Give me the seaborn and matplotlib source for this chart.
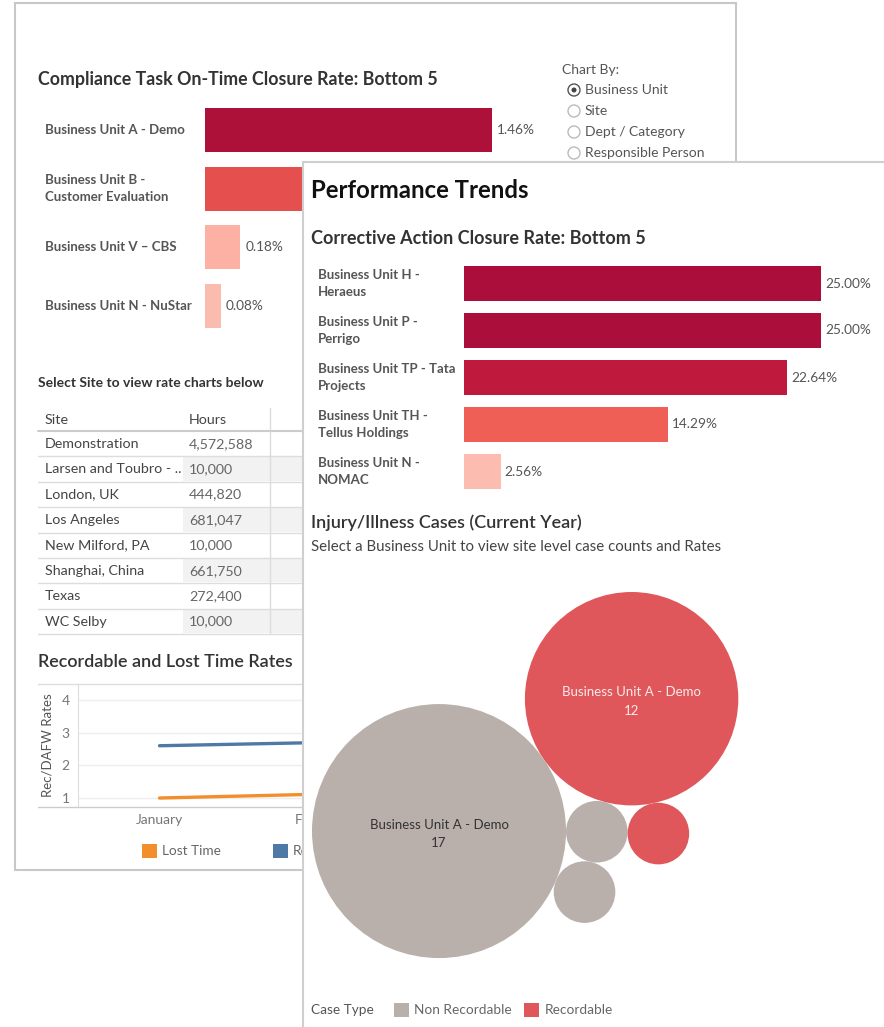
import numpy as np
import pandas as pd
import matplotlib
matplotlib.use('Agg')
import matplotlib.pyplot as plt
import seaborn as sns
from matplotlib.patches import Rectangle, Circle, Ellipse
from matplotlib.lines import Line2D
from matplotlib import transforms

# 데이터
compliance_units = ["Business Unit A - Demo", "Business Unit B -\nCustomer Evaluation",
                    "Business Unit V – CBS", "Business Unit N - NuStar"]
compliance_rates = [1.46, 0.98, 0.18, 0.08]

chart_by_options = ["Business Unit", "Site", "Dept / Category", "Responsible Person"]

sites = ["Demonstration", "Larsen and Toubro - ..", "London, UK", "Los Angeles",
         "New Milford, PA", "Shanghai, China", "Texas", "WC Selby"]
site_hours = [4572588, 10000, 444820, 681047, 10000, 661750, 272400, 10000]

months = ["January", "February"]
lost_time_rates = [1.00, 1.12]
recordable_rates = [2.60, 2.70]

ca_units = ["Business Unit H -\nHeraeus", "Business Unit P -\nPerrigo",
            "Business Unit TP - Tata\nProjects", "Business Unit TH -\nTellus Holdings",
            "Business Unit N -\nNOMAC"]
ca_rates = [25.00, 25.00, 22.64, 14.29, 2.56]

case_units = ["Business Unit A - Demo", "Business Unit A - Demo", "", "", ""]
case_types = ["Non Recordable", "Recordable", "Non Recordable", "Recordable", "Non Recordable"]
case_counts = [17, 12, 1, 1, 1]

# 스타일
compliance_colors = ["#AD1038", "#E5504E", "#FDB1A4", "#FBBCB0"]
ca_colors = ["#AB0E3A", "#AB0E3A", "#BF193D", "#EF5F55", "#FDBCB0"]
case_colors = {"Non Recordable": "#B9B0AC", "Recordable": "#E0575B"}
line_colors = {"Lost Time": "#F28E2B", "Recordable": "#4E79A7"}

sns.set_style("white")
plt.rcParams['font.family'] = ['Lato', 'DejaVu Sans']

W, H = 884, 1027
FRONT_X, FRONT_Y = 303, 162
fig = plt.figure(figsize=(W / 100, H / 100), dpi=100)
fig.patch.set_facecolor("white")


def px_axes(x0, y0, x1, y1, z):
    ax = fig.add_axes([x0 / W, 1 - y1 / H, (x1 - x0) / W, (y1 - y0) / H], zorder=z)
    ax.patch.set_visible(False)
    return ax


def ftext(x, y, s, z=2, **kw):
    kw.setdefault("va", "center")
    kw.setdefault("ha", "left")
    return fig.text(x / W, 1 - y / H, s, zorder=z, **kw)


def fline(x0, y0, x1, y1, z=2, **kw):
    fig.add_artist(Line2D([x0 / W, x1 / W], [1 - y0 / H, 1 - y1 / H],
                          transform=fig.transFigure, zorder=z, **kw))


def frect(x0, y0, x1, y1, z=2, **kw):
    fig.add_artist(Rectangle((x0 / W, 1 - y1 / H), (x1 - x0) / W, (y1 - y0) / H,
                             transform=fig.transFigure, zorder=z, **kw))


# ---------------- 뒤쪽 대시보드 ----------------
frect(15, 3, 736, 870, z=0.5, facecolor="white", edgecolor="#c8c8c8", lw=1.5)

ftext(38, 79, "Compliance Task On-Time Closure Rate: Bottom 5", fontsize=12.8,
      fontweight="bold", color="#333333")

ax1 = px_axes(205, 101, 555, 335, 1)
sns.barplot(x=compliance_rates, y=compliance_units, hue=compliance_units,
            palette=compliance_colors, legend=False, orient="h", width=0.75,
            saturation=1, linewidth=0, ax=ax1)
ax1.set_xlim(0, 350 / 287 * 1.46)
ax1.set_ylim(len(compliance_units) - 0.5, -0.5)
ax1.axis("off")
lab_tr = transforms.blended_transform_factory(fig.transFigure, ax1.transData)
for i, (u, v) in enumerate(zip(compliance_units, compliance_rates)):
    ax1.text(45 / W, i, u, transform=lab_tr, ha="left", va="center", fontsize=9.5,
             color="#555555", fontweight="bold", linespacing=1.5)
    # 앞 패널에 가려지는 값 라벨은 생략
    bx, by = ax1.transData.transform((v, i))
    hidden = (bx + 45 > FRONT_X) and (H - by > FRONT_Y)
    if not hidden:
        ax1.annotate(f"{v:.2f}%", (v, i), xytext=(5, 0), textcoords="offset pixels",
                     va="center", ha="left", fontsize=9.8, color="#555555")

# Chart By 라디오 버튼
ftext(562, 70, "Chart By:", fontsize=10, color="#555555")
for i, opt in enumerate(chart_by_options):
    yy = 90 + 21 * i
    fig.add_artist(Ellipse((574 / W, 1 - yy / H), 12 / W, 12 / H, transform=fig.transFigure,
                           facecolor="white", edgecolor="#555555" if i == 0 else "#bbbbbb",
                           lw=1, zorder=2))
    if i == 0:
        fig.add_artist(Ellipse((574 / W, 1 - yy / H), 5 / W, 5 / H, transform=fig.transFigure,
                               facecolor="#444444", edgecolor="none", zorder=2))
    ftext(585, yy, opt, fontsize=10, color="#555555")

# 사이트 표
ftext(38, 383, "Select Site to view rate charts below", fontsize=10, fontweight="bold",
      color="#333333")
ftext(45, 420, "Site", fontsize=10.3, color="#444444")
ftext(189, 420, "Hours", fontsize=10.3, color="#444444")
fline(270, 408, 270, 634, color="#dddddd", lw=1)
fline(38, 431, 330, 431, color="#cccccc", lw=1.5)
row_h = 25.4
for i, (s, h) in enumerate(zip(sites, site_hours)):
    top = 431 + row_h * i
    if i % 2 == 1:
        frect(183, top + 1, 330, top + row_h - 1, z=1.5, facecolor="#f2f2f2", edgecolor="none")
    ftext(45, top + row_h / 2, s, fontsize=10.3, color="#444444")
    ftext(189, top + row_h / 2, f"{h:,}", fontsize=10.3, color="#666666")
    fline(38, top + row_h, 330, top + row_h, color="#dddddd", lw=1)

# 선 그래프
ftext(38, 662, "Recordable and Lost Time Rates", fontsize=13, color="#333333",
      fontweight="semibold")
fline(38, 684, 330, 684, color="#dddddd", lw=1)
fline(38, 807, 330, 807, color="#cccccc", lw=1)
ax3 = px_axes(78, 684, 404, 807, 1)
line_df = pd.DataFrame({
    "idx": list(range(len(months))) * 2,
    "rate": lost_time_rates + recordable_rates,
    "series": ["Lost Time"] * len(months) + ["Recordable"] * len(months),
})
sns.lineplot(data=line_df, x="idx", y="rate", hue="series", palette=line_colors,
             linewidth=2.4, legend=False, ax=ax3)
ax3.set_xlim(-0.5, len(months) - 0.5)
ax3.set_ylim(0.725, 4.49)
ax3.set_yticks([1, 2, 3, 4])
ax3.set_xticks(range(len(months)))
ax3.set_xticklabels(months)
ax3.set_xticks(np.arange(-0.5, len(months)), minor=True)
ax3.tick_params(axis="both", length=0, labelsize=10, labelcolor="#777777")
ax3.tick_params(axis="x", which="minor", length=6, color="#dddddd", width=1)
ax3.tick_params(axis="x", pad=5)
ax3.tick_params(axis="y", pad=6)
ax3.set_xlabel("")
ax3.set_ylabel("")
ax3.grid(axis="y", color="#eeeeee", lw=1)
for sp in ["top", "right", "bottom"]:
    ax3.spines[sp].set_visible(False)
ax3.spines["left"].set_color("#dddddd")
ftext(47, 745, "Rec/DAFW Rates", fontsize=9.5, color="#555555", rotation=90, ha="center")

frect(142, 844, 157, 858, facecolor=line_colors["Lost Time"], edgecolor="none")
ftext(162, 851, "Lost Time", fontsize=9.8, color="#666666")
frect(273, 844, 288, 858, facecolor=line_colors["Recordable"], edgecolor="none")
ftext(293, 851, "Recordable", fontsize=9.8, color="#666666")

# ---------------- 앞쪽 대시보드 ----------------
frect(FRONT_X, FRONT_Y, 900, 1040, z=5, facecolor="white", edgecolor="#cfcfcf", lw=1.5)

ftext(311, 191, "Performance Trends", z=7, fontsize=17.2, fontweight="bold", color="#111111")
ftext(311, 239, "Corrective Action Closure Rate: Bottom 5", z=7, fontsize=13,
      fontweight="bold", color="#333333")

ax2 = px_axes(464, 260, 884, 495, 6)
sns.barplot(x=ca_rates, y=ca_units, hue=ca_units, palette=ca_colors, legend=False,
            orient="h", width=0.745, saturation=1, linewidth=0, ax=ax2)
ax2.set_xlim(0, 420 / 357 * 25)
ax2.set_ylim(len(ca_units) - 0.5, -0.5)
ax2.axis("off")
lab_tr2 = transforms.blended_transform_factory(fig.transFigure, ax2.transData)
for i, (u, v) in enumerate(zip(ca_units, ca_rates)):
    ax2.text(318 / W, i, u, transform=lab_tr2, ha="left", va="center", fontsize=9.5,
             color="#555555", fontweight="bold", linespacing=1.5)
    ax2.annotate(f"{v:.2f}%", (v, i), xytext=(4, 0), textcoords="offset pixels",
                 va="center", ha="left", fontsize=9.8, color="#555555")

ftext(311, 523, "Injury/Illness Cases (Current Year)", z=7, fontsize=13,
      fontweight="semibold", color="#333333")
ftext(311, 547, "Select a Business Unit to view site level case counts and Rates", z=7,
      fontsize=10.8, color="#444444")


# 버블 배치 (두 원에 접하도록)
def tangent_to(c1, r1, c2, r2, r, side):
    d = np.hypot(*(c2 - c1))
    a, b = r1 + r, r2 + r
    x = (a ** 2 - b ** 2 + d ** 2) / (2 * d)
    h = np.sqrt(max(a ** 2 - x ** 2, 0))
    u = (c2 - c1) / d
    perp = np.array([-u[1], u[0]])
    return c1 + x * u + side * h * perp


k = 127 / np.sqrt(max(case_counts))
radii = [k * np.sqrt(c) for c in case_counts]
centers = [np.array([0.0, 0.0])]
ang = np.deg2rad(34.5)
centers.append(centers[0] + (radii[0] + radii[1]) * np.array([np.cos(ang), np.sin(ang)]))
for i, (a, b, side) in zip([2, 3, 4], [(0, 1, -1), (1, 2, 1), (0, 2, -1)]):
    centers.append(tangent_to(centers[a], radii[a], centers[b], radii[b], radii[i], side))
centers = np.array(centers)

ax4 = px_axes(305, 565, 884, 985, 6)
minx = (centers[:, 0] - radii).min()
maxy = (centers[:, 1] + radii).max()
ax4.set_xlim(minx - 7, minx - 7 + 579)
ax4.set_ylim(maxy + 27 - 420, maxy + 27)
ax4.axis("off")
for c, r, t, u, n in zip(centers, radii, case_types, case_units, case_counts):
    ax4.add_patch(Circle(c, r, facecolor=case_colors[t], edgecolor="none"))
    if u:
        ax4.text(c[0], c[1] - 3, f"{u}\n{n}", ha="center", va="center", fontsize=9.5,
                 linespacing=1.65, color="#333333" if t == "Non Recordable" else "#fbeaea")

ftext(311, 1010, "Case Type", z=7, fontsize=9.8, color="#555555")
frect(394, 1003, 409, 1017, z=7, facecolor=case_colors["Non Recordable"], edgecolor="none")
ftext(414, 1010, "Non Recordable", z=7, fontsize=9.8, color="#666666")
frect(524, 1003, 539, 1017, z=7, facecolor=case_colors["Recordable"], edgecolor="none")
ftext(545, 1010, "Recordable", z=7, fontsize=9.8, color="#666666")

plt.savefig("out.png", dpi=100)
